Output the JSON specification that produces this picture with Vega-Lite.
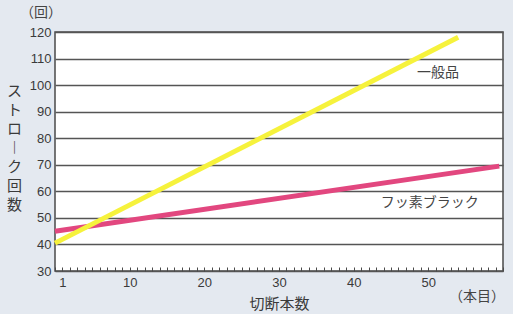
{
  "$schema": "https://vega.github.io/schema/vega-lite/v6.json",
  "width": 448,
  "height": 239,
  "autosize": {"type": "none"},
  "padding": {"left": 55, "top": 32, "right": 10, "bottom": 43},
  "background": "#e4e9f0",
  "config": {
    "font": "Noto Sans CJK JP",
    "view": {"fill": "white", "stroke": "#4a4a4a", "strokeWidth": 1.5}
  },
  "title": {
    "text": "（回）",
    "anchor": "start",
    "frame": "group",
    "orient": "top",
    "dx": -35,
    "offset": 6,
    "fontSize": 14,
    "fontWeight": "normal",
    "color": "#444",
    "font": "Noto Sans CJK JP"
  },
  "datasets": {
    "lines": [
      {"series": "フッ素ブラック", "x": 0, "y": 45},
      {"series": "フッ素ブラック", "x": 59.5, "y": 69.5},
      {"series": "一般品", "x": 0, "y": 40.5},
      {"series": "一般品", "x": 54, "y": 118}
    ],
    "labels": [
      {"label": "一般品", "x": 51.3, "y": 104.6},
      {"label": "フッ素ブラック", "x": 50.2, "y": 55.7}
    ],
    "unit": [{"t": "（本目）", "x": 60, "y": 30}]
  },
  "encoding": {
    "x": {
      "field": "x",
      "type": "quantitative",
      "scale": {"domain": [0, 60], "nice": false, "zero": false},
      "axis": {
        "values": [0,1,2,3,4,5,6,7,8,9,10,11,12,13,14,15,16,17,18,19,20,21,22,23,24,25,26,27,28,29,30,31,32,33,34,35,36,37,38,39,40,41,42,43,44,45,46,47,48,49,50,51,52,53,54,55,56,57,58,59,60],
        "labelExpr": "indexof([1,10,20,30,40,50], datum.value) >= 0 ? datum.label : ''",
        "labelFont": "Liberation Sans",
        "labelFontSize": 13,
        "labelColor": "#3a3a3a",
        "labelPadding": 9,
        "labelOverlap": false,
        "labelFlush": false,
        "tickSize": -4,
        "tickColor": "#4a4a4a",
        "tickWidth": 1,
        "domain": false,
        "grid": false,
        "title": "切断本数",
        "titleFont": "Noto Sans CJK JP",
        "titleFontSize": 15,
        "titleFontWeight": "normal",
        "titleColor": "#3a3a3a",
        "titlePadding": 7
      }
    },
    "y": {
      "field": "y",
      "type": "quantitative",
      "scale": {"domain": [30, 120], "nice": false, "zero": false},
      "axis": {
        "values": [30,40,50,60,70,80,90,100,110,120],
        "labelFont": "Liberation Sans",
        "labelFontSize": 13,
        "labelColor": "#3a3a3a",
        "labelPadding": 4,
        "labelOverlap": false,
        "labelFlush": false,
        "ticks": false,
        "domain": false,
        "grid": true,
        "gridColor": "#555555",
        "gridWidth": 1.3,
        "title": ["ス", "ト", "ロ", "︱", "ク", "回", "数"],
        "titleFont": "Noto Sans CJK JP",
        "titleFontSize": 15,
        "titleFontWeight": "normal",
        "titleColor": "#3a3a3a",
        "titleAngle": 0,
        "titleAlign": "center",
        "titleBaseline": "top",
        "titleLineHeight": 19,
        "titleX": -41,
        "titleY": 51
      }
    }
  },
  "layer": [
    {
      "data": {"name": "lines"},
      "mark": {"type": "line", "strokeWidth": 5, "strokeCap": "butt"},
      "encoding": {
        "color": {
          "field": "series",
          "type": "nominal",
          "scale": {"domain": ["フッ素ブラック", "一般品"], "range": ["#e2477f", "#f6f23c"]},
          "legend": null
        }
      }
    },
    {
      "data": {"name": "labels"},
      "mark": {"type": "text", "fontSize": 14, "color": "#444", "font": "Noto Sans CJK JP"},
      "encoding": {
        "text": {"field": "label"}
      }
    },
    {
      "data": {"name": "unit"},
      "mark": {"type": "text", "fontSize": 14, "color": "#444", "font": "Noto Sans CJK JP", "align": "right", "baseline": "middle", "dy": 26, "dx": 2},
      "encoding": {
        "text": {"field": "t"}
      }
    }
  ]
}
